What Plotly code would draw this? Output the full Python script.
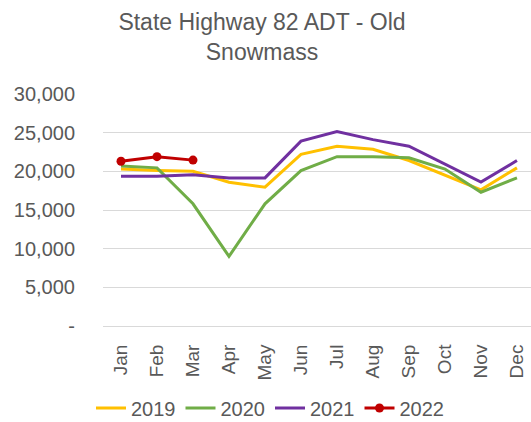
import plotly.graph_objects as go

months = ["Jan", "Feb", "Mar", "Apr", "May", "Jun", "Jul", "Aug", "Sep", "Oct", "Nov", "Dec"]
y2019 = [20300, 20100, 20000, 18600, 17950, 22200, 23250, 22850, 21400, 19450, 17600, 20450]
y2020 = [20700, 20450, 15800, 9000, 15800, 20100, 21900, 21900, 21750, 20300, 17300, 19150]
y2021 = [19350, 19350, 19550, 19150, 19150, 23900, 25150, 24100, 23250, 20950, 18600, 21400]
y2022 = [21300, 21900, 21450]
ytickvals = [0, 5000, 10000, 15000, 20000, 25000, 30000]
yticktext = ["-", "5,000", "10,000", "15,000", "20,000", "25,000", "30,000"]

FONT = "Liberation Sans"
GREY = "#595959"

fig = go.Figure()
fig.add_trace(go.Scatter(x=months, y=y2019, mode="lines", name="2019",
                         line=dict(color="#FFC000", width=3)))
fig.add_trace(go.Scatter(x=months, y=y2020, mode="lines", name="2020",
                         line=dict(color="#70AD47", width=3)))
fig.add_trace(go.Scatter(x=months, y=y2021, mode="lines", name="2021",
                         line=dict(color="#7030A0", width=3)))
fig.add_trace(go.Scatter(x=months[:len(y2022)], y=y2022, mode="lines+markers", name="2022",
                         line=dict(color="#C00000", width=3),
                         marker=dict(color="#C00000", size=9)))

fig.update_layout(
    width=531, height=422,
    margin=dict(l=103, r=0, t=94, b=96),
    paper_bgcolor="white", plot_bgcolor="white",
    font=dict(family=FONT, color=GREY),
    title=dict(text="State Highway 82 ADT - Old<br>Snowmass",
               x=262 / 531, xanchor="center", xref="container",
               y=1 - 30 / 422, yanchor="middle", yref="container",
               font=dict(family=FONT, size=23, color=GREY)),
    showlegend=True,
    legend=dict(orientation="h", x=270 / 531, xanchor="center", xref="container",
                y=(422 - 408) / 422, yanchor="middle", yref="container",
                font=dict(family=FONT, size=20, color=GREY),
                itemwidth=30, bgcolor="rgba(0,0,0,0)"),
)
fig.update_xaxes(
    type="category", range=[-0.5, 11.39], tickangle=-90,
    tickfont=dict(family=FONT, size=19, color=GREY),
    showgrid=False, showline=True, linecolor="#D9D9D9", linewidth=1,
    ticks="", ticklabelstandoff=10, fixedrange=True,
)
fig.update_yaxes(
    range=[0, 30000], tickvals=ytickvals, ticktext=yticktext,
    tickfont=dict(family=FONT, size=20, color=GREY),
    showgrid=True, gridcolor="#D9D9D9", gridwidth=1,
    zeroline=False, showline=False, ticks="", ticklabelstandoff=27,
)

fig.write_html("out.html", config={"displayModeBar": False},
               post_script="document.body.style.margin='0';document.body.style.overflow='hidden';")
